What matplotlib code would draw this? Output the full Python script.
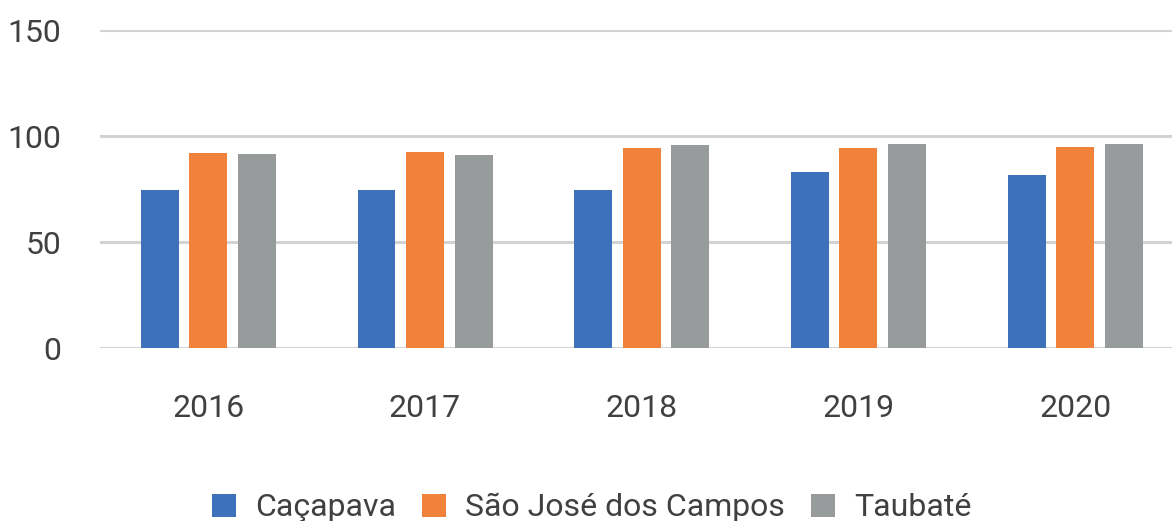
import numpy as np
import matplotlib
matplotlib.use("Agg")
import matplotlib.pyplot as plt

plt.rcParams["font.family"] = ["Roboto", "DejaVu Sans"]

years = ["2016", "2017", "2018", "2019", "2020"]
cacapava = [74.6, 74.6, 74.6, 83.1, 81.7]
sao_jose = [92.2, 92.6, 94.3, 94.5, 94.9]
taubate = [91.3, 91.2, 95.8, 96.0, 96.0]

series = [
    ("Caçapava", cacapava, "#3D72BB"),
    ("São José dos Campos", sao_jose, "#F0823B"),
    ("Taubaté", taubate, "#989B9C"),
]

text_color = "#404040"
grid_color = "#D3D3D3"

fig = plt.figure(figsize=(11.72, 5.21), dpi=100)
ax = fig.add_axes([100 / 1172, 1 - 348 / 521, 1072 / 1172, 318 / 521])

x = np.arange(len(years))
width = 0.175
step = 0.224
for i, (name, vals, color) in enumerate(series):
    ax.bar(x + (i - 1) * step, vals, width, color=color, label=name, zorder=3)

ax.set_ylim(0, 150)
ax.set_yticks([0, 50, 100, 150])
ax.set_xlim(-0.5, 4.5 - 11.5 / 217)
ax.set_xticks(x)
ax.set_xticklabels(years)

ax.grid(axis="y", color=grid_color, linewidth=2.2, zorder=0)
for s in ax.spines.values():
    s.set_visible(False)
ax.tick_params(axis="both", length=0, labelsize=23, labelcolor=text_color)
ax.tick_params(axis="y", pad=28)
ax.tick_params(axis="x", pad=33)

fig.legend(
    loc="lower center",
    bbox_to_anchor=(0.505, -0.058),
    ncol=3,
    frameon=False,
    fontsize=23,
    labelcolor=text_color,
    handlelength=0.75,
    handleheight=0.75,
    handletextpad=0.6,
    columnspacing=0.8,
)

fig.savefig("out.png", dpi=100)
